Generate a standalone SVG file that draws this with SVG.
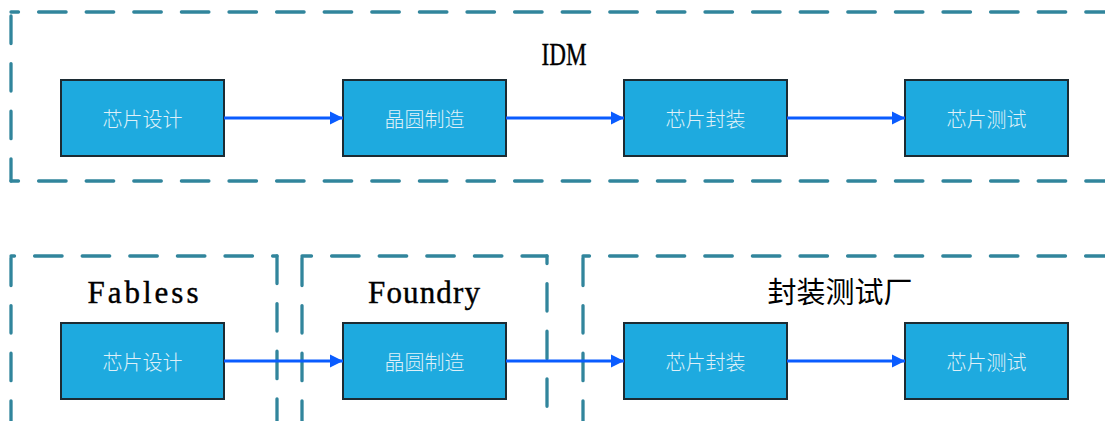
<svg xmlns="http://www.w3.org/2000/svg" width="1105" height="421" viewBox="0 0 1105 421">
<style>
.dash{fill:none;stroke:#31859c;stroke-width:3.3;stroke-linecap:round;stroke-dasharray:27.5 20.1}
.node rect{fill:#1eaadf;stroke:#1c2b33;stroke-width:2}
.node text{fill:#dff0f8;font-family:"Noto Sans CJK SC",sans-serif;font-size:20px;font-weight:300;text-anchor:middle;dominant-baseline:central}
.lbl{fill:#000;font-family:"Liberation Serif",serif;font-size:31px;text-anchor:middle;stroke:#000;stroke-width:0.4}
.cjk{fill:#000;font-family:"Noto Sans CJK SC",sans-serif;font-size:29px;text-anchor:middle}
.conn path{fill:none;stroke:#0a5cff;stroke-width:3;marker-end:url(#arr)}
</style>
<defs>
<marker id="arr" markerUnits="userSpaceOnUse" markerWidth="14" markerHeight="14" refX="13" refY="7" orient="auto">
<path d="M0,0.5 L13,7 L0,13.5 Z" fill="#0a5cff"/>
</marker>
</defs>
<g id="groups">
<g id="group-idm">
<path class="dash" d="M11,12 H1110" stroke-dashoffset="20"/>
<path class="dash" d="M11,12 V181" stroke-dashoffset="-4"/>
<path class="dash" d="M11,181 H1110" stroke-dashoffset="20"/>
<text class="lbl" x="564" y="65" font-size="35" textLength="45" lengthAdjust="spacingAndGlyphs">IDM</text>
</g>
<g id="group-fabless">
<path class="dash" d="M11,256 H277" stroke-dashoffset="24"/>
<path class="dash" d="M11,256 V440" stroke-dashoffset="-2"/>
<path class="dash" d="M277,256 V440" stroke-dashoffset="0"/>
<text class="lbl" x="143" y="303" textLength="111" lengthAdjust="spacing">Fabless</text>
</g>
<g id="group-foundry">
<path class="dash" d="M302,256 H547" stroke-dashoffset="18"/>
<path class="dash" d="M302,256 V440" stroke-dashoffset="-2"/>
<path class="dash" d="M547,256 V440" stroke-dashoffset="20"/>
<text class="lbl" x="424" y="303" textLength="112" lengthAdjust="spacing">Foundry</text>
</g>
<g id="group-osat">
<path class="dash" d="M583,256 H1110" stroke-dashoffset="21"/>
<path class="dash" d="M583,256 V440" stroke-dashoffset="-2"/>
<text class="cjk" x="840" y="303">封装测试厂</text>
</g>
</g>
<g id="n1" class="node"><rect x="61" y="80" width="163" height="76"/><text x="142.5" y="118">芯片设计</text></g>
<g id="n2" class="node"><rect x="343" y="80" width="163" height="76"/><text x="424.5" y="118">晶圆制造</text></g>
<g id="n3" class="node"><rect x="624" y="80" width="163" height="76"/><text x="705.5" y="118">芯片封装</text></g>
<g id="n4" class="node"><rect x="905" y="80" width="163" height="76"/><text x="986.5" y="118">芯片测试</text></g>
<g id="n5" class="node"><rect x="61" y="323" width="163" height="76"/><text x="142.5" y="361">芯片设计</text></g>
<g id="n6" class="node"><rect x="343" y="323" width="163" height="76"/><text x="424.5" y="361">晶圆制造</text></g>
<g id="n7" class="node"><rect x="624" y="323" width="163" height="76"/><text x="705.5" y="361">芯片封装</text></g>
<g id="n8" class="node"><rect x="905" y="323" width="163" height="76"/><text x="986.5" y="361">芯片测试</text></g>
<g id="connectors" class="conn">
<path d="M224,118 H343"/>
<path d="M506,118 H624"/>
<path d="M787,118 H905"/>
<path d="M224,361 H343"/>
<path d="M506,361 H624"/>
<path d="M787,361 H905"/>
</g>
</svg>
